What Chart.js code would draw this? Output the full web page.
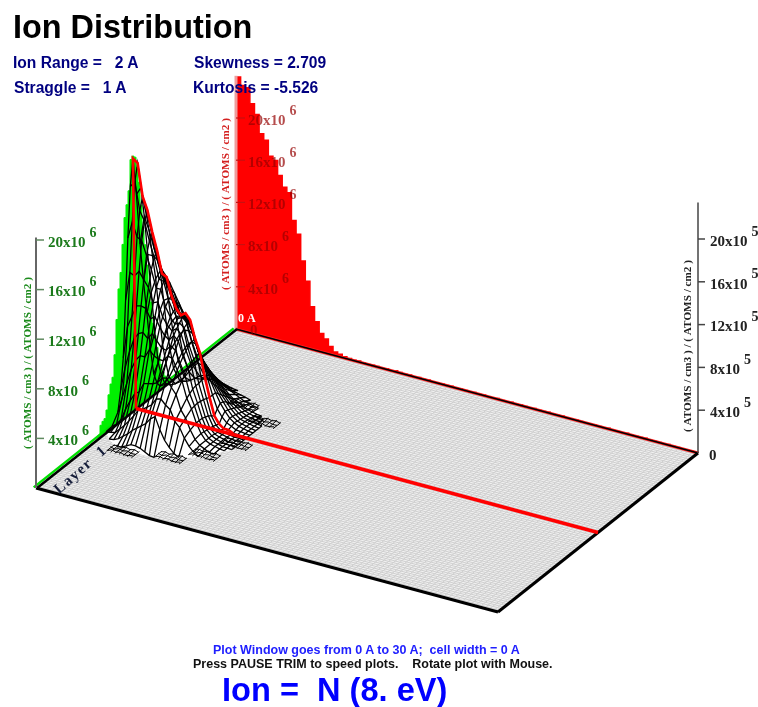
<!DOCTYPE html>
<html>
<head>
<meta charset="utf-8">
<title>Ion Distribution</title>
<script src="https://cdn.jsdelivr.net/npm/chart.js@4/dist/chart.umd.min.js"></script>
<style>
html, body { margin: 0; padding: 0; background: #fff; overflow: hidden; }
#wrap { position: relative; width: 758px; height: 707px; }
#wrap div { position: absolute; white-space: pre; font-family: "Liberation Sans", Arial, sans-serif; font-weight: bold; line-height: 1; }
.stat { font-size: 15.6px; color: #000080; }
</style>
</head>
<body>
<div id="wrap">
  <canvas id="plot" width="758" height="707"></canvas>
  <div style="left:13px;top:11px;font-size:32.4px;color:#000">Ion Distribution</div>
  <div class="stat" style="left:13px;top:55px">Ion Range =   2 A</div>
  <div class="stat" style="left:194px;top:55px">Skewness = 2.709</div>
  <div class="stat" style="left:14px;top:80px">Straggle =   1 A</div>
  <div class="stat" style="left:193px;top:80px">Kurtosis = -5.526</div>
  <div style="left:213px;top:644px;font-size:12.5px;color:#2020ff">Plot Window goes from 0 A to 30 A;  cell width = 0 A</div>
  <div style="left:193px;top:658px;font-size:12.5px;color:#111">Press PAUSE TRIM to speed plots.    Rotate plot with Mouse.</div>
  <div style="left:222px;top:674px;font-size:32.6px;color:#0000ff">Ion =  N (8. eV)</div>
</div>
<script>
// Depth histogram on the back wall, one value per 0.3 A cell (x10^6)
const depthWall = [24.0, 23.3, 23.2, 21.8, 20.9, 19.2, 18.7, 17.3, 17.0, 15.7, 14.7, 14.3, 11.8, 10.6, 8.2, 6.4, 4.1, 2.8, 1.8, 1.4,
  0.8, 0.4, 0.3, 0.2, 0.15, 0.1, 0.15, 0.1, 0.05, 0.1, 0.1, 0.05, 0.1, 0.05, 0.15, 0.1, 0.05, 0.1, 0.05, 0.1,
  0.05, 0.1, 0.05, 0.05, 0.1, 0.05, 0.1, 0.05, 0.1, 0.05, 0.05, 0.1, 0.05, 0.1, 0.05, 0.05, 0.1, 0.05, 0.05, 0.1,
  0.05, 0.1, 0.05, 0.05, 0.1, 0.05, 0.05, 0.1, 0.05, 0.05, 0.1, 0.05, 0.05, 0.1, 0.05, 0.05, 0.05, 0.1, 0.05, 0.05,
  0.1, 0.05, 0.05, 0.05, 0.1, 0.05, 0.05, 0.05, 0.1, 0.05, 0.05, 0.05, 0.05, 0.1, 0.05, 0.05, 0.05, 0.05, 0.05, 0.05];

// Lateral histogram on the left wall, 0.3 A cells starting at 9.9 A (x10^6)
const lateralWall = [0, 0.3, 0.6, 0.9, 1.4, 2.2, 3.1, 4.0, 5.2, 6.4, 8.4, 10.2, 11.9, 13.8, 15.2, 17.5, 19.6, 21.0, 22.0, 22.2,
  22.0, 19.4, 18.3, 17.3, 15.1, 12.8, 11.5, 9.0, 6.1, 4.3, 3.85, 3.06, 1.9, 1.3, 1.2, 1.0, 0.3, 0];

// Centre ridge of the surface, 0.3 A cells (x10^6)
const ridge = [21.8, 21.5, 18.7, 17.6, 15.8, 14.3, 12.4, 12.2, 10.7, 9.7, 9.2, 9.5, 9.0, 7.5, 6.4, 4.4, 2.7, 1.2, 0.6, 0.3, 0.3, 0.1];

// Surface rows, one per lateral offset (in cells from the centre line, + is toward the viewer)
const rowP21 = [null, null, null, null, null, 0.1, 0.2, 0.4, 0.6, 0.6, 0.5, 0.3, 0.1, 0.05];
const rowP18 = [null, null, 0.05, 0.1, 0.3, 0.6, 0.9, 1.3, 1.6, 1.9, 2.2, 2.7, 3.0, 2.0, 1.2, 0.7, 0.3, 0.05];
const rowP15 = [0.05, 0.1, 0.2, 0.6, 1.0, 1.5, 2.0, 2.6, 2.8, 3.1, 3.4, 4.0, 4.1, 3.7, 3.4, 2.5, 2.1, 1.3, 0.7, 0.3, 0.05];
const rowP12 = [0.1, 0.4, 0.9, 1.9, 2.7, 3.4, 3.7, 4.5, 4.6, 4.7, 4.9, 5.4, 5.5, 4.8, 4.3, 3.1, 2.5, 1.6, 0.9, 0.5, 0.3, 0.1, 0.05];
const rowP9 = [0.9, 2.3, 3.6, 4.9, 5.8, 6.3, 6.3, 7.0, 6.6, 6.4, 6.4, 6.9, 6.8, 5.9, 5.1, 3.7, 2.9, 1.8, 1.0, 0.5, 0.3, 0.2, 0.1, 0.05];
const rowP7 = [2.6, 4.6, 6.1, 7.3, 7.9, 8.1, 7.7, 8.2, 7.7, 7.2, 7.1, 7.6, 7.3, 6.3, 5.4, 3.9, 2.95, 1.8, 0.95, 0.5, 0.3, 0.2, 0.1, 0.08, 0.05];
const rowP6 = [5.2, 8.0, 9.0, 10.0, 10.1, 10.0, 9.2, 9.5, 8.7, 8.1, 7.8, 8.3, 7.9, 6.7, 5.8, 4.1, 3.0, 1.8, 0.9, 0.5, 0.3, 0.2, 0.1, 0.1, 0.05];
const rowP4 = [10.0, 12.5, 12.3, 12.8, 12.2, 11.6, 10.4, 10.6, 9.4, 8.8, 8.4, 8.7, 8.3, 7.0, 6.0, 4.2, 2.95, 1.7, 0.85, 0.45, 0.3, 0.2, 0.1, 0.1, 0.05];
const rowP3 = [15.2, 16.7, 15.5, 15.3, 14.1, 13.0, 11.5, 11.5, 10.1, 9.3, 8.8, 9.0, 8.7, 7.3, 6.2, 4.2, 2.9, 1.6, 0.8, 0.4, 0.3, 0.2, 0.1, 0.1, 0.05];
const rowP1 = [19.5, 20.0, 17.6, 16.8, 15.2, 13.9, 12.1, 12.0, 10.5, 9.6, 9.1, 9.3, 8.9, 7.4, 6.3, 4.3, 2.8, 1.4, 0.7, 0.35, 0.3, 0.15, 0.1, 0.08, 0.05];
const row0 = [21.8, 21.5, 18.7, 17.6, 15.8, 14.3, 12.4, 12.2, 10.7, 9.7, 9.2, 9.5, 9.0, 7.5, 6.4, 4.4, 2.7, 1.2, 0.6, 0.3, 0.3, 0.1, 0.1, 0.05, 0.05];
const rowM1 = [18.5, 19.2, 17.2, 15.9, 14.3, 12.9, 11.7, 11.0, 9.9, 9.2, 9.0, 8.8, 7.8, 6.4, 5.5, 4.0, 2.7, 1.6, 1.0, 0.6, 0.4, 0.2, 0.15, 0.08, 0.05];
const rowM3 = [14.0, 16.5, 15.4, 14.0, 12.6, 11.4, 10.8, 9.6, 8.8, 8.6, 8.7, 8.0, 6.4, 5.4, 4.6, 3.6, 2.7, 1.9, 1.3, 0.8, 0.5, 0.3, 0.2, 0.1, 0.05];
const rowM4 = [10.5, 13.0, 13.0, 12.8, 12.0, 11.1, 10.4, 9.4, 8.4, 8.2, 7.8, 6.7, 5.6, 4.8, 4.0, 3.1, 2.4, 1.8, 1.2, 0.75, 0.45, 0.3, 0.2, 0.1, 0.05];
const rowM6 = [7.5, 9.5, 10.8, 11.6, 11.4, 10.8, 10.0, 9.2, 8.0, 7.8, 6.8, 5.4, 4.7, 4.2, 3.4, 2.7, 2.1, 1.6, 1.1, 0.7, 0.4, 0.3, 0.2, 0.1, 0.05];
const rowM7 = [4.2, 5.8, 7.6, 8.8, 9.1, 9.1, 8.8, 8.4, 7.6, 6.8, 5.7, 4.7, 4.1, 3.5, 2.9, 2.3, 1.8, 1.3, 0.95, 0.6, 0.35, 0.25, 0.15, 0.08, 0.05];
const rowM9 = [1.8, 2.9, 4.6, 6.0, 6.8, 7.4, 7.6, 7.5, 7.2, 5.7, 4.5, 4.0, 3.5, 2.9, 2.4, 1.9, 1.5, 1.1, 0.8, 0.5, 0.3, 0.2, 0.1, 0.05];
const rowM10 = [0.8, 1.6, 2.8, 4.0, 4.8, 5.6, 6.1, 6.2, 6.0, 4.7, 3.8, 3.4, 2.9, 2.4, 2.0, 1.5, 1.2, 0.9, 0.65, 0.4, 0.25, 0.15, 0.08, 0.05];
const rowM12 = [0.3, 0.7, 1.3, 2.2, 3.0, 3.9, 4.6, 5.0, 4.9, 3.7, 3.2, 2.8, 2.4, 2.0, 1.6, 1.2, 0.9, 0.7, 0.5, 0.3, 0.2, 0.1, 0.05];
const rowM15 = [0.05, 0.1, 0.3, 0.7, 1.1, 1.7, 2.3, 2.7, 2.6, 2.4, 2.1, 1.8, 1.5, 1.2, 1.0, 0.8, 0.6, 0.4, 0.3, 0.2, 0.1];
const rowM18 = [null, null, 0.1, 0.2, 0.4, 0.7, 1.0, 1.2, 1.3, 1.2, 1.1, 0.9, 0.7, 0.5, 0.4, 0.3, 0.2, 0.05];
const rowM21 = [null, null, null, null, null, 0.2, 0.3, 0.4, 0.5, 0.4, 0.3, 0.2, 0.1, 0.05];
const meshOffsets = [21, 18, 15, 12, 9, 7.5, 6, 4.5, 3, 1.5, 0, -1.5, -3, -4.5, -6, -7.5, -9, -10.5, -12, -15, -18, -21];
const meshRows = [rowP21, rowP18, rowP15, rowP12, rowP9, rowP7, rowP6, rowP4, rowP3, rowP1, row0, rowM1, rowM3, rowM4, rowM6, rowM7, rowM9, rowM10, rowM12, rowM15, rowM18, rowM21];

// Flat hatched scraps where the surface meets the floor: depth cell and lateral offset
const scrapCells = [7, 16, 21, 24, 24, 17];
const scrapOffsets = [22, 19, 13.5, 4.5, -9.5, -15];
const scrapRipple = [0.1, 0.25, 0.05, 0.3, 0.12, 0.28, 0.08];

// Axis ticks
const tickValues = [4, 8, 12, 16, 20];
const tickLabels = ["4x10", "8x10", "12x10", "16x10", "20x10"];
const axisTitle = "( ATOMS / cm3 ) / ( ATOMS / cm2 )";

const CELL = 0.3;     // A per cell
const RANGE = 30;     // plot window in A

// Floor corners on the view scales, and height per unit at the walls
const BACK0 = { x: 236, y: 329 }, FRONT0 = { x: 36, y: 488 }, BACK1 = { x: 698, y: 453 };
const H_BACK0 = 10.55, H_FRONT0 = 12.4, H_BACK1 = 10.7;

// depth and lateral in A, height in axis units
function project(depth, lateral, z, lean) {
  const u = depth / RANGE, v = lateral / RANGE;
  const h = H_BACK0 + (H_FRONT0 - H_BACK0) * v + (H_BACK1 - H_BACK0) * u * (1 - v);
  return {
    x: BACK0.x + (BACK1.x - BACK0.x) * u + (FRONT0.x - BACK0.x) * v + (lean || 0) * z,
    y: BACK0.y + (BACK1.y - BACK0.y) * u + (FRONT0.y - BACK0.y) * v - h * z
  };
}

function line(points, color, width, extra) {
  return Object.assign({
    data: points, showLine: true, pointRadius: 0, borderColor: color, borderWidth: width,
    fill: false, tension: 0, clip: false
  }, extra || {});
}
function shape(points, color, extra) {
  return line(points, color, 0, Object.assign({ fill: 'shape', backgroundColor: color }, extra || {}));
}

const LEAN = -0.14;
const MESH_WIDTH = 1.3;
const lateralOf = offset => RANGE / 2 + offset * CELL;

// listed bottom layer first, reversed below since Chart.js paints the first dataset last
const layers = [];

// back wall histogram
const wallPts = [project(0, 0, 0)];
depthWall.forEach((v, i) => wallPts.push(project((i + 1) * CELL, 0, v)));
wallPts.push(project(RANGE, 0, 0));
layers.push(shape(wallPts, '#ff0000', { stepped: 'after' }));
layers.push(line(wallPts, '#ff0000', 1.5, { stepped: 'after' }));
layers.push(line([project(0, 0, 0), project(0, 0, 24)], '#ee9c9c', 3));
tickValues.forEach(v => {
  const p = project(0, 0, v);
  layers.push(line([p, { x: p.x + 9, y: p.y }], '#c81010', 1.2));
});

// left wall histogram
const sidePts = [];
lateralWall.forEach((v, i) => sidePts.push(project(0, 9.9 + i * CELL, v)));
layers.push(shape(sidePts, '#00f000', { stepped: 'after' }));
layers.push(line(sidePts, '#00f000', 1, { stepped: 'after' }));

// floor and its grid
layers.push(shape([project(0, 0, 0), project(RANGE, 0, 0), project(RANGE, RANGE, 0), project(0, RANGE, 0)], '#f1f1f1'));
for (let i = 0; i <= 100; i++) {
  layers.push(line([project(i * CELL, 0, 0), project(i * CELL, RANGE, 0)], '#cfcfcf', 1));
  layers.push(line([project(0, i * CELL, 0), project(RANGE, i * CELL, 0)], '#cfcfcf', 1));
}

// floor under the surface stays white
const firstCell = row => row.findIndex(v => v !== null);
const footprint = [];
meshRows.forEach((row, r) => footprint.push(project((row.length - 1) * CELL, lateralOf(meshOffsets[r]), 0)));
for (let r = meshRows.length - 1; r >= 0; r--) {
  footprint.push(project(firstCell(meshRows[r]) * CELL, lateralOf(meshOffsets[r]), 0));
}
layers.push(shape(footprint, '#ffffff'));

// floor edges
layers.push(line([project(0, 0, 0), project(RANGE, 0, 0)], '#ff2020', 3.2));
layers.push(line([project(0, 0, 0), project(RANGE, 0, 0)], '#000000', 1.5));
layers.push(line([project(-0.15, 0, 0), project(-0.15, RANGE, 0)], '#00e000', 2.5));
layers.push(line([project(0.05, 0, 0), project(0.05, RANGE, 0)], '#000000', 2.5));
layers.push(line([project(0, RANGE, 0), project(RANGE, RANGE, 0)], '#000000', 3));
layers.push(line([project(RANGE, RANGE, 0), project(RANGE, 0, 0)], '#000000', 3));

// hatched scraps on the floor
scrapCells.forEach((cell, s) => {
  const off = scrapOffsets[s];
  [-1.5, 0, 1.5].forEach((dy, k) => {
    const pts = scrapRipple.map((r, n) => project((cell + n * 0.9 - 3) * CELL, lateralOf(off + dy), scrapRipple[(n + k) % scrapRipple.length] * 0.6));
    layers.push(line(pts, '#000000', 1));
  });
  scrapRipple.forEach((r, n) => {
    layers.push(line([project((cell + n * 0.9 - 3) * CELL, lateralOf(off - 2), r * 0.5),
      project((cell + n * 0.9 - 3) * CELL, lateralOf(off + 2), 0.05)], '#000000', 1));
  });
});

// surface mesh, rows then columns
meshRows.forEach((row, r) => {
  const pts = [];
  row.forEach((v, i) => { if (v !== null) pts.push(project(i * CELL, lateralOf(meshOffsets[r]), v, LEAN)); });
  layers.push(line(pts, '#000000', MESH_WIDTH));
});
for (let i = 0; i < row0.length; i++) {
  const pts = [];
  meshRows.forEach((row, r) => {
    if (i < row.length && row[i] !== null) pts.push(project(i * CELL, lateralOf(meshOffsets[r]), row[i], LEAN));
  });
  layers.push(line(pts, '#000000', MESH_WIDTH));
}

// red centre line on the floor and the ridge above it
layers.push(line([project(0, RANGE / 2, 0), project(RANGE, RANGE / 2, 0)], '#ff0000', 3.6));
const ridgePts = [project(0, RANGE / 2, 0)];
ridge.forEach((v, i) => ridgePts.push(project(i * CELL, RANGE / 2, v, LEAN)));
layers.push(line(ridgePts, '#ff0000', 2.6));

// front and right value axes
layers.push(line([project(0, RANGE, 0), project(0, RANGE, 20.2)], '#666666', 2));
layers.push(line([project(RANGE, 0, 0), project(RANGE, 0, 23.4)], '#444444', 1.5));
tickValues.forEach(v => {
  const a = project(0, RANGE, v), b = project(RANGE, 0, v);
  layers.push(line([a, { x: a.x + 8, y: a.y }], '#5f8a5f', 1.5));
  layers.push(line([b, { x: b.x + 7, y: b.y }], '#444444', 1.5));
});

// tick labels, titles and small marks
const labelsPlugin = {
  id: 'labels',
  afterDatasetsDraw(chart) {
    const c = chart.ctx, sx = chart.scales.x, sy = chart.scales.y;
    c.save();
    c.textBaseline = 'middle';
    const axes = [
      { at: v => project(0, RANGE, v), color: '#1b7a1b', title: '#1b8a1b', power: '6', tx: 28, ty: 363 },
      { at: v => project(0, 0, v), color: 'rgba(150,0,0,0.7)', title: '#d42020', power: '6', tx: 226, ty: 204 },
      { at: v => project(RANGE, 0, v), color: '#222222', title: '#222222', power: '5', tx: 688, ty: 346 }
    ];
    axes.forEach(axis => {
      tickValues.forEach((v, i) => {
        const p = axis.at(v);
        const px = sx.getPixelForValue(p.x), py = sy.getPixelForValue(p.y);
        c.fillStyle = axis.color;
        c.textAlign = 'left';
        c.font = 'bold 15px "Liberation Serif"';
        c.fillText(tickLabels[i], px + 12, py + 3);
        const w = c.measureText(tickLabels[i]).width;
        c.font = 'bold 14px "Liberation Serif"';
        c.fillText(axis.power, px + 12 + w + 4, py - 7);
      });
      c.save();
      c.translate(axis.tx, axis.ty);
      c.rotate(-Math.PI / 2);
      c.textAlign = 'center';
      c.fillStyle = axis.title;
      c.font = 'bold 11.2px "Liberation Serif"';
      c.fillText(axisTitle, 0, 0);
      c.restore();
    });
    c.textAlign = 'left';
    c.font = 'bold 15px "Liberation Serif"';
    c.fillStyle = '#222222';
    c.fillText('0', 709, 456);
    c.fillStyle = 'rgba(150,0,0,0.6)';
    c.fillText('0', 250, 331);
    c.font = 'bold 12px "Liberation Serif"';
    c.fillStyle = '#ffffff';
    c.fillText('0 A', 238, 319);
    c.save();
    c.translate(81, 470);
    c.rotate(-0.72);
    c.textAlign = 'center';
    c.font = 'bold 15px "Liberation Serif"';
    c.letterSpacing = '1.5px';
    c.fillStyle = '#141c38';
    c.fillText('Layer  1', 0, 0);
    c.restore();
    c.restore();
  }
};

new Chart(document.getElementById('plot'), {
  type: 'scatter',
  data: { datasets: layers.reverse() },
  options: {
    responsive: false,
    animation: false,
    layout: { padding: 0 },
    events: [],
    scales: {
      x: { type: 'linear', display: false, min: 0, max: 758 },
      y: { type: 'linear', display: false, min: 0, max: 707, reverse: true }
    },
    plugins: { legend: { display: false }, tooltip: { enabled: false }, title: { display: false } }
  },
  plugins: [labelsPlugin]
});
</script>
</body>
</html>
